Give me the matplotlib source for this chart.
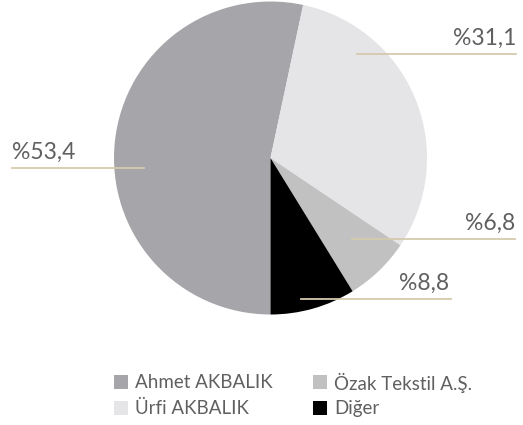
import matplotlib.pyplot as plt
from matplotlib.patches import Rectangle

names = ["Ahmet AKBALIK", "Ürfi AKBALIK", "Özak Tekstil A.Ş.", "Diğer"]
shares = [53.4, 31.1, 6.8, 8.8]
labels = ["%53,4", "%31,1", "%6,8", "%8,8"]
colors = ["#a6a6aa", "#e5e5e7", "#c1c1c2", "#000000"]

H = 425
fig = plt.figure(figsize=(5.23, 4.25), dpi=100)
ax = fig.add_axes([0, 0, 1, 1])

ax.pie(shares, colors=colors, startangle=-90, counterclock=False,
       center=(270.5, H - 158), radius=156.5,
       wedgeprops=dict(linewidth=0))
ax.set_xlim(0, 523)
ax.set_ylim(0, H)
ax.set_aspect("equal")
ax.axis("off")

# label line (x0, x1, y) and text anchor, in pixel coords from top-left
label_pos = [
    (12, 144, 168, 12, 163, "left"),
    (357, 516, 54, 516, 49, "right"),
    (352, 515, 239, 515, 234, "right"),
    (301, 451, 299, 449, 294, "right"),
]
line_col = "#d6caae"
txt_col = "#606060"
for lab, (x0, x1, y, tx, ty, ha) in zip(labels, label_pos):
    ax.plot([x0, x1], [H - y, H - y], color=line_col, lw=1.3, zorder=5)
    ax.text(tx, H - ty, lab, ha=ha, va="bottom", fontsize=16.5,
            family="Lato", color=txt_col, zorder=6)

# legend, two columns, column-wise order
leg_x = [114, 313]
leg_y = [375, 401]
for i, (n, c) in enumerate(zip(names, colors)):
    x = leg_x[i // 2]
    y = leg_y[i % 2]
    ax.add_patch(Rectangle((x, H - y - 14), 14, 14, facecolor=c,
                           edgecolor="none"))
    ax.text(x + 21, H - y - 7.5, n, ha="left", va="center", fontsize=13.5,
            family="Lato", color=txt_col)

fig.savefig("out.png", dpi=100)
